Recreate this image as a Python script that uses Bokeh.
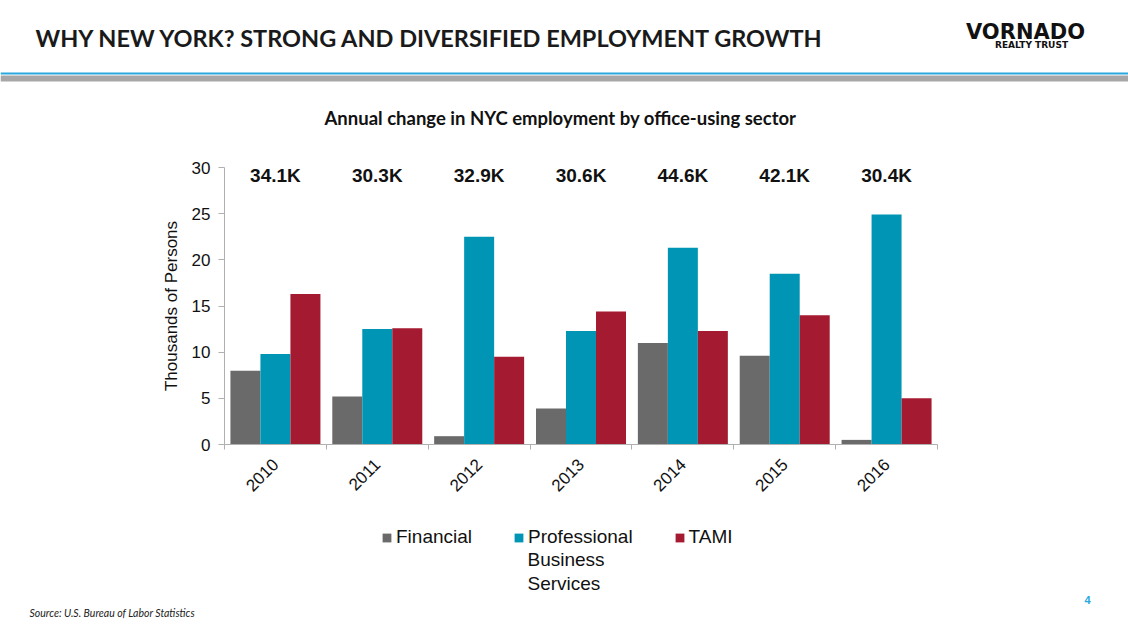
import math
from bokeh.plotting import figure
from bokeh.models import (Range1d, FixedTicker, ColumnDataSource, Legend, LegendItem,
                          Label, BoxAnnotation)
from bokeh.core.properties import value
from bokeh.transform import dodge
from bokeh.embed import file_html
from bokeh.resources import INLINE

# ---- data ----
years = ["2010", "2011", "2012", "2013", "2014", "2015", "2016"]
financial = [8.0, 5.2, 0.9, 3.9, 11.0, 9.6, 0.5]
professional = [9.8, 12.5, 22.5, 12.3, 21.3, 18.5, 24.9]
tami = [16.3, 12.6, 9.5, 14.4, 12.3, 14.0, 5.0]
totals = ["34.1K", "30.3K", "32.9K", "30.6K", "44.6K", "42.1K", "30.4K"]
series_labels = ["Financial", "Professional", "TAMI"]
series_label_cont = "Business\nServices"   # continuation of "Professional"
y_ticks = [0, 5, 10, 15, 20, 25, 30]
y_max = 30

# ---- layout / styles ----
colors = ["#696a69", "#0095b5", "#a41a30"]
ARIAL = "Liberation Sans"
W, H = 1128, 635
PL, PR, PT, PB = 224, 937, 167, 444     # plot-area pixel box
n = len(years)
ux = (PR - PL) / n
uy = (PB - PT) / y_max

centers = [i + 0.5 for i in range(n)]
src = ColumnDataSource(dict(x=centers, year=years, financial=financial,
                            professional=professional, tami=tami, total=totals))

p = figure(width=W, height=H, output_backend="svg", toolbar_location=None,
           x_range=Range1d(-PL / ux, n + (W - PR) / ux),
           y_range=Range1d(-(H - PB) / uy, y_max + PT / uy),
           min_border=0, min_border_left=0, min_border_right=0,
           min_border_top=0, min_border_bottom=0, outline_line_color=None,
           background_fill_color="white", border_fill_color="white")
p.grid.visible = False

bw = 0.2945
renderers = []
for off, col, c in zip([-bw, 0, bw], ["financial", "professional", "tami"], colors):
    r = p.vbar(x=dodge("x", off), top=col, bottom=0, width=bw, source=src,
               fill_color=c, line_color=None)
    renderers.append(r)

p.text(x="x", y=y_max, text="total", source=src, text_align="center",
       text_baseline="middle", y_offset=8, text_font=value(ARIAL),
       text_font_style="bold", text_font_size="19px", text_color="#111111")

# y axis
ya = p.yaxis[0]
ya.fixed_location = 0
ya.bounds = (0, y_max)
ya.ticker = FixedTicker(ticks=y_ticks)
ya.axis_label = "Thousands of Persons"
ya.axis_label_text_font = ARIAL
ya.axis_label_text_font_style = "normal"
ya.axis_label_text_font_size = "17px"
ya.axis_label_text_color = "#111111"
ya.axis_label_standoff = 8
ya.major_label_text_font = ARIAL
ya.major_label_text_font_size = "17px"
ya.major_label_text_color = "#111111"
ya.major_label_standoff = 8
ya.axis_line_color = "#b0b0b0"
ya.major_tick_line_color = "#b0b0b0"
ya.major_tick_out = 6
ya.major_tick_in = 0
ya.minor_tick_line_color = None

# x axis
xa = p.xaxis[0]
xa.fixed_location = 0
xa.bounds = (0, n)
xa.ticker = FixedTicker(ticks=centers, minor_ticks=list(range(n + 1)))
xa.major_label_overrides = {c: y for c, y in zip(centers, years)}
xa.major_label_orientation = math.pi / 4
xa.major_label_text_font = ARIAL
xa.major_label_text_font_size = "17px"
xa.major_label_text_color = "#111111"
xa.major_tick_line_color = None
xa.major_tick_out = 0
xa.major_tick_in = 0
xa.major_label_standoff = 12
xa.minor_tick_line_color = "#b0b0b0"
xa.minor_tick_out = 5
xa.minor_tick_in = 0
xa.axis_line_color = "#b0b0b0"

# legend
items = [LegendItem(label=lab, renderers=[r]) for lab, r in zip(series_labels, renderers)]
legend = Legend(items=items, orientation="horizontal", location=(381, H - 548),
                glyph_width=11, glyph_height=11, label_standoff=4, spacing=41,
                padding=0, margin=0, border_line_color=None,
                background_fill_alpha=0, label_text_font=ARIAL,
                label_text_font_size="19px", label_text_color="#111111")
p.add_layout(legend, "center")


def lab(text, x, y, size, font=ARIAL, style="normal", color="#111111", align="left",
        line_height=1.2):
    p.add_layout(Label(x=x, y=H - y, x_units="screen", y_units="screen", text=text,
                       text_font=font, text_font_style=style, text_font_size=size,
                       text_color=color, text_align=align, text_baseline="middle",
                       text_line_height=line_height))


def band(y_top, y_bot, color):
    p.add_layout(BoxAnnotation(left=0, right=W, top=H - y_top, bottom=H - y_bot,
                               left_units="screen", right_units="screen",
                               top_units="screen", bottom_units="screen",
                               fill_color=color, fill_alpha=1, line_color=None))


lab(series_label_cont, 527, 571, "19px", line_height=1.1)

band(72, 74, "#2aa7df")
band(75, 81, "#a7a7a7")
lab("WHY NEW YORK? STRONG AND DIVERSIFIED EMPLOYMENT GROWTH", 35, 37, "23.5px",
    font="Lato", style="bold", color="#1a1a1a")
lab("VORNADO", 1025, 31, "21px", font="DejaVu Sans", style="bold", align="center")
lab("REALTY TRUST", 1031, 44, "9px", font="DejaVu Sans", style="bold", align="center")
lab("Annual change in NYC employment by office-using sector", 560, 117, "18.5px",
    font="Lato", style="bold", align="center")
lab("Source: U.S. Bureau of Labor Statistics", 29, 612, "10.5px", font="Lato",
    style="italic", color="#222222")
lab("4", 1087, 599, "11px", font=ARIAL, style="bold", color="#29a8e0", align="center")

open("out.html", "w").write(file_html(p, INLINE))
